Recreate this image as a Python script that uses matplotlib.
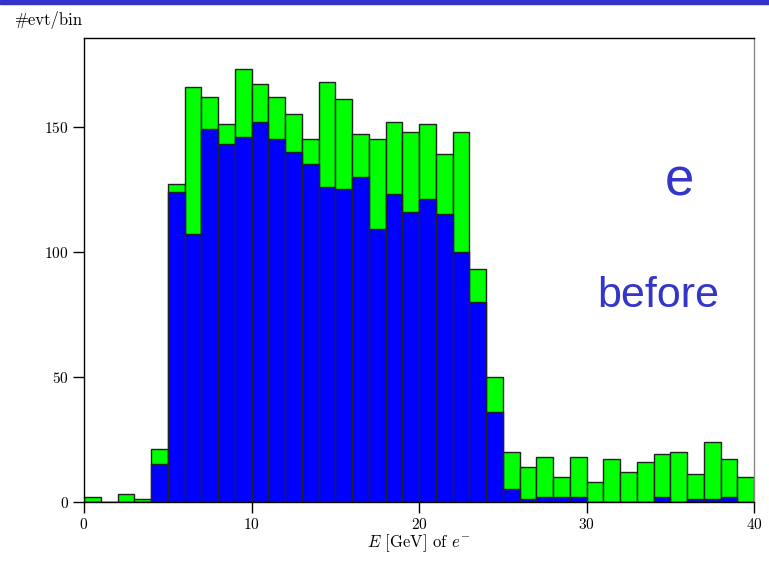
import numpy as np
import matplotlib
matplotlib.use("Agg")
import matplotlib.pyplot as plt
from matplotlib.patches import Rectangle

plt.rcParams["font.family"] = "serif"
plt.rcParams["font.serif"] = ["cmr10"]
plt.rcParams["mathtext.fontset"] = "cm"
plt.rcParams["axes.formatter.use_mathtext"] = True

bin_edges = np.arange(0, 41, 1)
total = [2, 0, 3, 1, 21, 127, 166, 162, 151, 173,
         167, 162, 155, 145, 168, 161, 147, 145, 152, 148,
         151, 139, 148, 93, 50, 20, 14, 18, 10, 18,
         8, 17, 12, 16, 19, 20, 11, 24, 17, 10]
selected = [0, 0, 0, 0, 15, 124, 107, 149, 143, 146,
            152, 145, 140, 135, 126, 125, 130, 109, 123, 116,
            121, 115, 100, 80, 36, 5, 1, 2, 2, 2,
            0, 0, 0, 0, 2, 0, 1, 1, 2, 0]

fig = plt.figure(figsize=(7.69, 5.63), dpi=100)
ax = fig.add_axes([84 / 769, 1 - 502 / 563, 670 / 769, 464 / 563])

left = bin_edges[:-1]
w = np.diff(bin_edges)
ax.bar(left, total, width=w, align="edge", color="#00ff00",
       edgecolor="#222222", linewidth=1.0)
ax.bar(left, selected, width=w, align="edge", color="#0000ff",
       edgecolor="#222222", linewidth=1.0)

ax.set_xlim(0, 40)
ax.set_ylim(0, 185.5)
ax.set_xticks([0, 10, 20, 30, 40])
ax.set_yticks([0, 50, 100, 150])
ax.tick_params(direction="out", length=8, width=1.0, labelsize=11,
               top=False, right=False, pad=3)
for s in ax.spines.values():
    s.set_linewidth(1.0)
ax.spines["right"].set_color("#888888")
ax.set_xlabel(r"$E$ [GeV] of $e^{-}$", fontsize=12, labelpad=0)

fig.text(14 / 769, 1 - 20 / 563, "#evt/bin", fontsize=12, va="center", ha="left")

fig.text(679 / 769, 1 - 181 / 563, "e", fontsize=38, color="#3535c8",
         family="Liberation Sans", ha="center", va="center")
fig.text(658 / 769, 1 - 296 / 563, "before", fontsize=31, color="#3535c8",
         family="Liberation Sans", ha="center", va="center")

fig.patches.append(Rectangle((0, 1 - 4 / 563), 1, 4 / 563, transform=fig.transFigure,
                             color="#3333cc", zorder=5))

fig.savefig("out.png", dpi=100)
